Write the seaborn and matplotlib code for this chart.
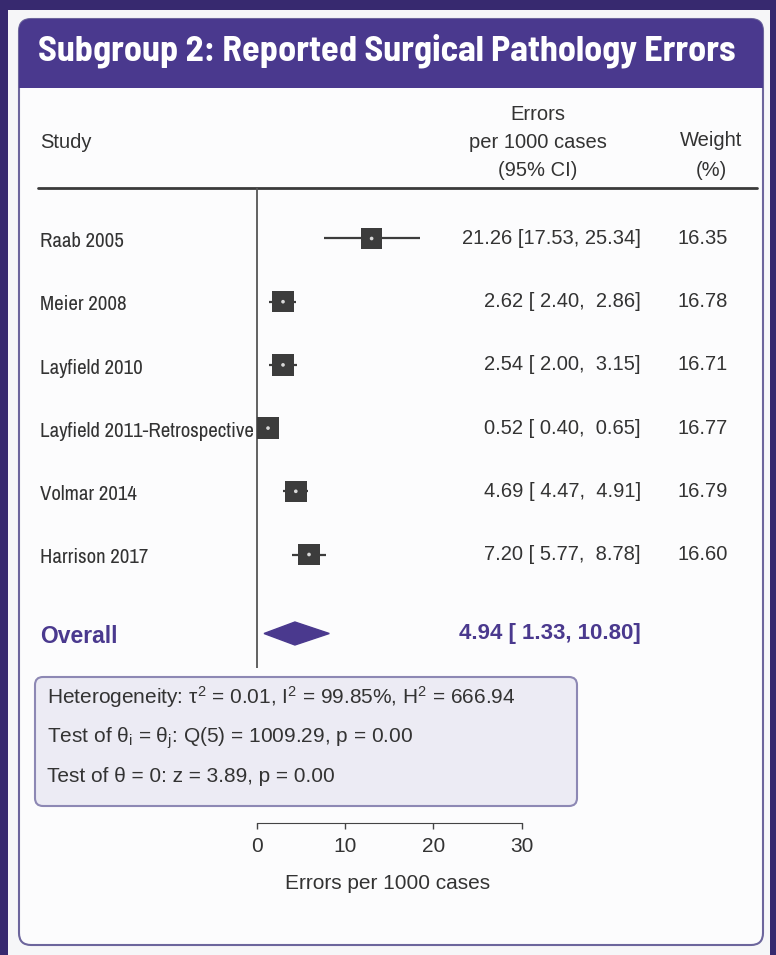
import numpy as np
import pandas as pd
import matplotlib
matplotlib.use('Agg')
import matplotlib.pyplot as plt
from matplotlib import transforms
from matplotlib.patches import FancyBboxPatch, Rectangle, Polygon
import seaborn as sns

# data
studies = ['Raab 2005', 'Meier 2008', 'Layfield 2010', 'Layfield 2011-Retrospective',
           'Volmar 2014', 'Harrison 2017']
ci_text = ['21.26 [17.53, 25.34]', '2.62 [ 2.40,  2.86]', '2.54 [ 2.00,  3.15]',
           '0.52 [ 0.40,  0.65]', '4.69 [ 4.47,  4.91]', '7.20 [ 5.77,  8.78]']
weights = [16.35, 16.78, 16.71, 16.77, 16.79, 16.60]
# where the markers sit on the drawn axis
est = [13.0, 2.95, 2.95, 1.25, 4.4, 5.9]
lo = [7.6, 1.35, 1.35, 0.6, 2.95, 4.0]
hi = [18.5, 4.4, 4.5, 2.5, 5.8, 7.8]
overall_est, overall_lo, overall_hi = 4.3, 0.8, 8.2
overall_text = '4.94 [ 1.33, 10.80]'
xticks = [0, 10, 20, 30]
stats_lines = ['Heterogeneity: \u03c4$^2$ = 0.01, I$^2$ = 99.85%, H$^2$ = 666.94',
               'Test of \u03b8$_i$ = \u03b8$_j$: Q(5) = 1009.29, p = 0.00',
               'Test of \u03b8 = 0: z = 3.89, p = 0.00']

sns.set_style('white')
plt.rcParams['font.family'] = ['Liberation Sans', 'DejaVu Sans']
plt.rcParams['mathtext.default'] = 'regular'
narrow = ['Archivo Narrow', 'Liberation Sans', 'DejaVu Sans']
narrow_bold = ['Barlow Semi Condensed', 'Liberation Sans', 'DejaVu Sans']

purple = '#4a398e'
dark = '#333333'
W, H = 776, 955

fig = plt.figure(figsize=(W / 100, H / 100), dpi=100, facecolor='#37296f')

# background card, panel, header band (pixel coords)
bg = fig.add_axes([0, 0, 1, 1])
bg.set_xlim(0, W)
bg.set_ylim(H, 0)
bg.axis('off')
bg.add_patch(Rectangle((8, 10), 762, 950, facecolor='#f6f6f8', edgecolor='none'))
bg.add_patch(FancyBboxPatch((19, 19), 744, 926, boxstyle='round,pad=0,rounding_size=12',
                            facecolor='#fcfcfd', edgecolor='#6c659c', lw=1.5))
bg.add_patch(FancyBboxPatch((19, 19), 744, 69, boxstyle='round,pad=0,rounding_size=12',
                            facecolor=purple, edgecolor='none'))
bg.add_patch(Rectangle((19, 70), 744, 18, facecolor=purple, edgecolor='none'))
bg.text(38, 51, 'Subgroup 2: Reported Surgical Pathology Errors', color='white',
        fontsize=26, fontweight='bold', family=narrow_bold, va='center', ha='left')

# column headers
bg.text(40, 143, 'Study', fontsize=14.5, color=dark, va='center')
for yy, s in zip([115, 143, 170], ['Errors', 'per 1000 cases', '(95% CI)']):
    bg.text(538, yy, s, fontsize=14.5, color=dark, va='center', ha='center')
for yy, s in zip([140, 170], ['Weight', '(%)']):
    bg.text(711, yy, s, fontsize=14.5, color=dark, va='center', ha='center')
bg.plot([38, 757], [188, 188], color='#3a3a3a', lw=2)

# heterogeneity box
bg.add_patch(FancyBboxPatch((35, 677), 542, 129, boxstyle='round,pad=0,rounding_size=8',
                            facecolor='#ecebf4', edgecolor='#8d88b4', lw=1.5))
for yy, s in zip([704, 743, 782], stats_lines):
    bg.text(47, yy, s, fontsize=15, color=dark, va='baseline', ha='left')

# forest axes, spanning the whole figure
ax = fig.add_axes([0, 0, 1, 1], facecolor='none')
x0px, upx = 257, 8.817
row0, step = 238.5, 63.2

rows = np.arange(len(studies))
overall_row = 6.25
df = pd.DataFrame({'study': studies, 'est': est, 'lo': lo, 'hi': hi, 'row': rows})

ax.hlines(df['row'], df['lo'], df['hi'], color='#3c3c3c', lw=1.6, zorder=2)
sns.scatterplot(data=df, x='est', y='row', marker='s', s=240, color='#3c3c3c',
                edgecolor='none', ax=ax, zorder=3, legend=False)
sns.scatterplot(data=df, x='est', y='row', s=7, color='#d8d8d8',
                edgecolor='none', ax=ax, zorder=4, legend=False)

h = 11.5 / step
ax.add_patch(Polygon([(overall_lo, overall_row), (overall_est, overall_row - h),
                      (overall_hi, overall_row), (overall_est, overall_row + h)],
                     closed=True, facecolor=purple, edgecolor=purple, zorder=3))

ax.vlines(0, (188 - row0) / step, (668 - row0) / step, color='#555555', lw=1.3)

tr = transforms.blended_transform_factory(ax.transAxes, ax.transData)
for r, s, c, w in zip(rows, studies, ci_text, weights):
    ax.text(40 / W, r + 0.05, s, transform=tr, fontsize=15, family=narrow, color=dark,
            va='center', ha='left')
    ax.text(641 / W, r, c, transform=tr, fontsize=14.5, color=dark,
            va='center', ha='right')
    ax.text(728 / W, r, f'{w:.2f}', transform=tr, fontsize=14.5, color=dark,
            va='center', ha='right')
ax.text(40 / W, overall_row + 0.04, 'Overall', transform=tr, fontsize=16.5, fontweight='bold',
        color=purple, va='center', ha='left')
ax.text(641 / W, overall_row, overall_text, transform=tr, fontsize=16, fontweight='bold',
        color=purple, va='center', ha='right')

ax.set_xlim(-x0px / upx, (W - x0px) / upx)
ax.set_ylim((H - row0) / step, -row0 / step)
for side in ['left', 'right', 'top']:
    ax.spines[side].set_visible(False)
ax.spines['bottom'].set_position(('data', (823 - row0) / step))
ax.spines['bottom'].set_bounds(0, 30)
ax.spines['bottom'].set_color('#444444')
ax.set_xticks(xticks)
ax.set_yticks([])
ax.tick_params(axis='x', length=4, width=1, color='#444444', labelsize=15,
               labelcolor=dark, pad=6, bottom=True)
ax.set_xlabel('Errors per 1000 cases', fontsize=15, color=dark, labelpad=13)
ax.set_ylabel('')

fig.savefig('out.png', dpi=100, facecolor=fig.get_facecolor())
